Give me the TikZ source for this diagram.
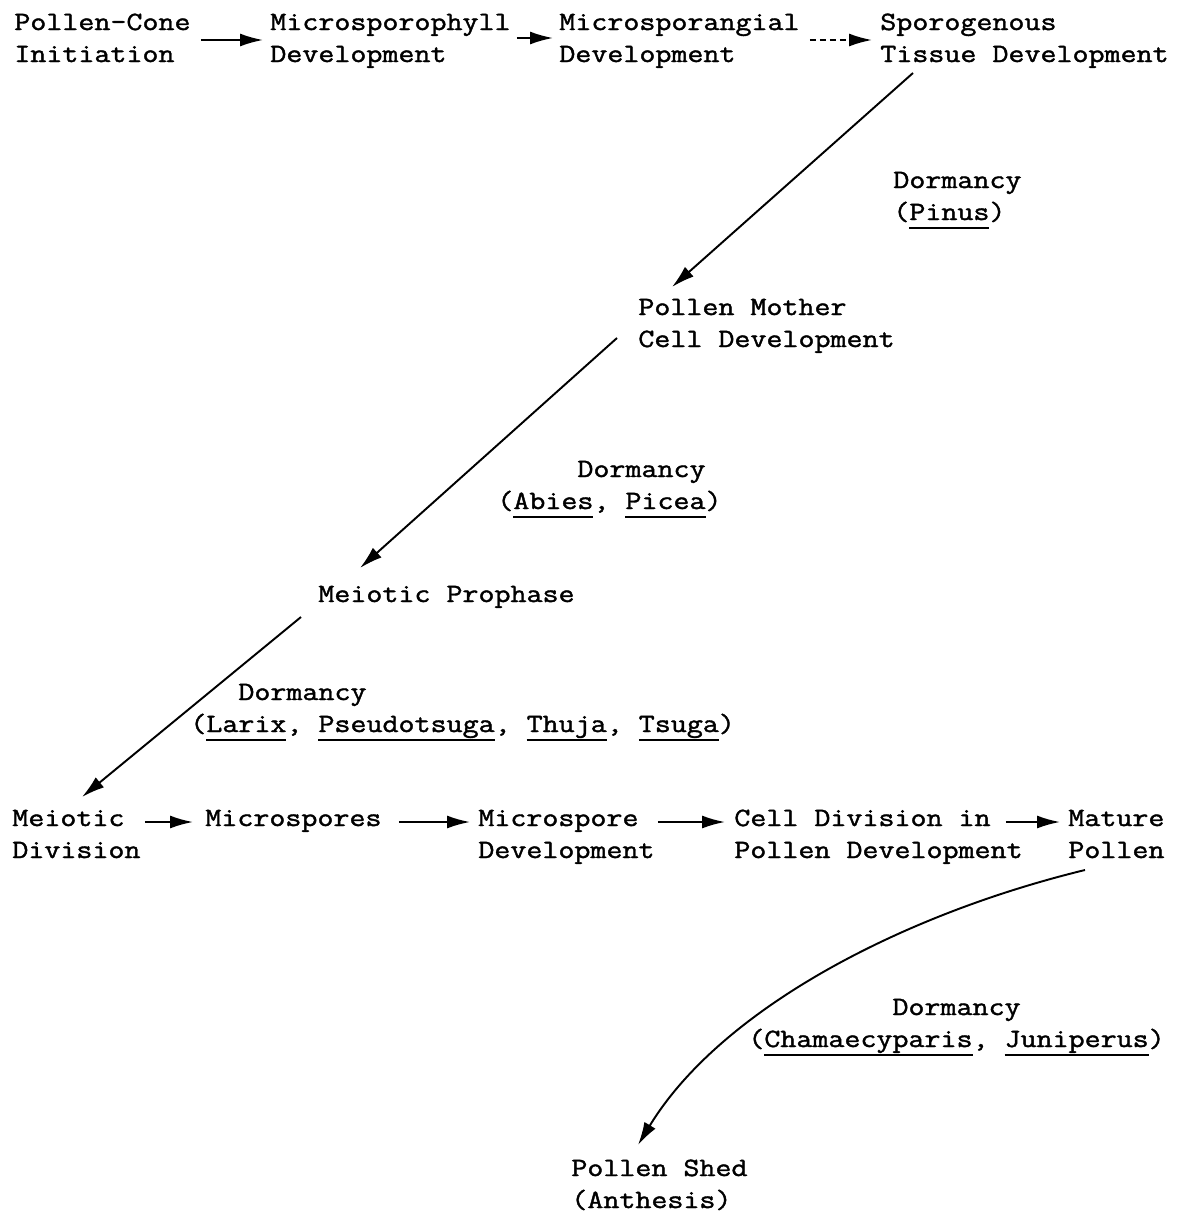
\documentclass[tikz,border=0pt]{standalone}
\usepackage{fontspec}
\newfontfamily\typewriter[FakeStretch=1.18, FakeBold=1.5]{Latin Modern Mono}
\usetikzlibrary{arrows.meta, calc}
\newcommand{\genus}[1]{\setbox0\hbox{#1}\rlap{\rule[-0.17cm]{\wd0}{0.04cm}}\box0}
\tikzset{
  stage node/.style={
    anchor=base west,
    inner sep=0pt,
    align=left,
    font=\typewriter\fontsize{15}{18.2}\selectfont,
  },
  flow/.style={
    -{Latex[length=4.6mm, width=2.6mm]},
    line width=1.1pt,
  },
}

\begin{document}
\begin{tikzpicture}[x=0.02cm, y=-0.02cm]
        \useasboundingbox (0,0) rectangle (1177,1214);

        % base anchors sit on the last line of each node
        \node[stage node] (pcone)    at (  14,  62) {Pollen-Cone\\Initiation};
        \node[stage node] (msphyll)  at ( 270,  62) {Microsporophyll\\Development};
        \node[stage node] (msporang) at ( 559,  62) {Microsporangial\\Development};
        \node[stage node] (sporog)   at ( 880,  62) {Sporogenous\\Tissue Development};
        \node[stage node] (dormA)    at ( 893, 220) {Dormancy\\(\genus{Pinus})};
        \node[stage node] (pmc)      at ( 638, 347) {Pollen Mother\\Cell Development};
        \node[stage node] (dormB)    at ( 497, 509) {\phantom{xxxxx}Dormancy\\(\genus{Abies}, \genus{Picea})};
        \node[stage node] (mpro)     at ( 318, 602) {Meiotic Prophase};
        \node[stage node] (dormC)    at ( 190, 732) {\phantom{xxx}Dormancy\\(\genus{Larix}, \genus{Pseudotsuga}, \genus{Thuja}, \genus{Tsuga})};
        \node[stage node] (mdiv)     at (  12, 858) {Meiotic\\Division};
        \node[stage node] (mspores)  at ( 205, 826) {Microspores};
        \node[stage node] (mspdev)   at ( 478, 858) {Microspore\\Development};
        \node[stage node] (celldiv)  at ( 734, 858) {Cell Division in\\Pollen Development};
        \node[stage node] (mature)   at (1068, 858) {Mature\\Pollen};
        \node[stage node] (dormD)    at ( 748,1047) {\phantom{xxxxxxxxx}Dormancy\\(\genus{Chamaecyparis}, \genus{Juniperus})};
        \node[stage node] (shed)     at ( 571,1208) {Pollen Shed\\(Anthesis)};

        % top row
        \path[flow] ([shift={( 10,-22)}]pcone.base east)    edge ([shift={( -7,-22)}]msphyll.base west);
        \path[flow] ([shift={(  6,-24)}]msphyll.base east)  edge ([shift={( -6,-24)}]msporang.base west);
        \path[flow, dash pattern=on 1.2mm off 0.8mm]
                    ([shift={( 10,-22)}]msporang.base east) edge ([shift={( -8,-22)}]sporog.base west);

        % down the diagonal
        \path[flow] ([shift={( 33, 11)}]sporog.base west) edge ([shift={( 34,-60)}]pmc.base west);
        \path[flow] ([shift={(-21, -9)}]pmc.base west)    edge ([shift={( 42,-34)}]mpro.base west);
        \path[flow] ([shift={(-17, 15)}]mpro.base west)   edge ([shift={( 70,-61)}]mdiv.base west);

        % bottom row
        \path[flow] ([shift={(  4,-36)}]mdiv.base east)     edge ([shift={(-12, -4)}]mspores.base west);
        \path[flow] ([shift={( 17, -4)}]mspores.base east)  edge ([shift={( -8,-36)}]mspdev.base west);
        \path[flow] ([shift={(  3,-36)}]mspdev.base east)   edge ([shift={( -9,-36)}]celldiv.base west);
        \path[flow] ([shift={(-17,-36)}]celldiv.base east)  edge ([shift={( -8,-36)}]mature.base west);

        \draw[flow] ([shift={(17,12)}]mature.base west)
            .. controls ($(mature.base west)+(-168,57)$) and ($(shed.base west)+(149,-198)$)
            .. ([shift={(67,-63)}]shed.base west);
\end{tikzpicture}
\end{document}
